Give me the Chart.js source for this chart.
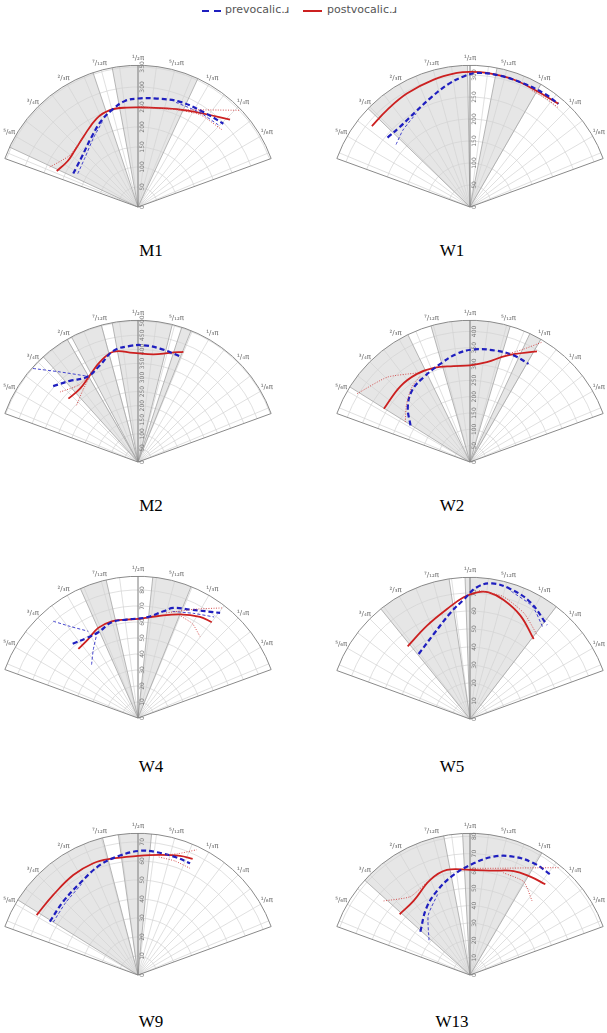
<!DOCTYPE html>
<html>
<head>
<meta charset="utf-8">
<script src="https://cdn.jsdelivr.net/npm/chart.js@4.4.0/dist/chart.umd.min.js"></script>
<style>
  body { margin: 0; width: 607px; height: 1033px; background: #fff; position: relative; overflow: hidden; }
  canvas { position: absolute; }
  .title { position: absolute; width: 80px; text-align: center; font: 17px 'Liberation Serif', serif; color: #000; }
  .leg { position: absolute; top: 3px; font: 11px 'DejaVu Sans', sans-serif; color: #555; }
  .sw { position: absolute; top: 10px; height: 2px; }
</style>
</head>
<body>
<div class="sw" style="left:202px;width:20px;background:repeating-linear-gradient(to right,#1f1fbf 0 7px,transparent 7px 12px)"></div>
<div class="leg" style="left:225px">prevocalic.ɹ</div>
<div class="sw" style="left:303px;width:19px;background:#cc2020"></div>
<div class="leg" style="left:327px">postvocalic.ɹ</div>

<script>
// panel names
const panelNames = ['M1', 'W1', 'M2', 'W2', 'W4', 'W5', 'W9', 'W13'];
// outer radius (axis units) and ring step of each fan
const radialMax = [354, 322, 503, 434, 88.5, 78.7, 74.5, 81.7];
const radialStep = [50, 50, 50, 50, 10, 10, 10, 10];
// angle tick labels (degrees)
const angleTicks = [30, 45, 60, 75, 90, 105, 120, 135, 150];
const angleLabels = ['¹/₆π', '¹/₄π', '¹/₃π', '⁵/₁₂π', '¹/₂π', '⁷/₁₂π', '²/₃π', '³/₄π', '⁵/₆π'];

// shaded angle ranges [from, to] in degrees
const shadeM1 = [[65, 100.5], [108.5, 155]];
const shadeW1 = [[60, 79], [91, 136]];
const shadeM2 = [[68, 72], [76, 100.5], [105, 118], [120, 132]];
const shadeW2 = [[60, 65], [73.5, 106], [116, 148]];
const shadeW4 = [[68, 84], [103, 114]];
const shadeW5 = [[52.5, 92], [98.5, 129]];
const shadeW9 = [[84.5, 98], [104.5, 148]];
const shadeW13 = [[59.5, 93], [100.7, 138]];

// traces: [angle in degrees, radius]
const m1Pre = [[152.7,182],[138.4,188],[123.5,210],[112.7,235],[104.1,253],[97,267],[90,271],[80.2,275],[68.2,283],[55.5,288],[44.3,298]];
const m1Post = [[156.1,222],[147,210],[138,212],[128,222],[115.1,244],[106.2,252],[96.5,250],[83.1,250],[68.4,263],[55,285],[43.5,317]];
const m1PreLo = [[151,172],[137,181],[123,205],[112.7,231]];
const m1PreRight = [[70,278],[57,282],[45.5,287]];
const m1PostHi = [[90,250],[66.7,265],[53.4,302],[43.5,351]];
const m1PostLo = [[70,260],[56,278],[42.7,285]];
const m1PostLeft = [[155.6,242],[143,214],[128,222]];

const w1Pre = [[139.9,245],[130.8,242],[119.9,249],[109.1,265],[99.8,284],[92.8,297],[87,305],[76.9,306],[66.2,306],[56.6,308],[49.4,309]];
const w1Post = [[140.5,289],[130.6,290],[119.1,295],[105.9,301],[95.5,306],[90,307],[82.8,307],[71.2,306],[60.1,304],[49.5,309]];
const w1PreLo = [[139.8,220],[131,232],[120,245]];
const w1PostLo = [[62,300],[55,301],[48.5,302]];

const m2Pre = [[138.2,404],[130,376],[120.8,352],[111.5,369],[102.5,404],[93.9,413],[87.4,415],[79,410],[68.3,404]];
const m2Post = [[137.7,334],[128.3,332],[119,352],[110.8,380],[102.6,401],[92.5,388],[81.9,386],[73.6,404],[67.6,423]];
const m2PreHi = [[138.3,499],[130.9,423],[120.8,355]];
const m2PostLo = [[137.3,297],[128,320],[119,350]];
const m2PostHi = [[138.1,372],[128,345],[119,352]];

const w2Pre = [[148.4,214],[138.6,254],[129,282],[118.6,296],[106.8,314],[96.8,334],[88.1,345],[77.2,350],[67.7,353],[59.2,350]];
const w2Post = [[148.3,310],[132.6,315],[121,315],[111,309],[99.7,298],[90,296],[80.4,310],[70.9,345],[58.8,396]];
const w2PostLeft = [[148.8,404],[134.3,363],[121,318]];
const w2PostRight = [[72,345],[65,380],[59,428]];
const w2PostLo = [[148.3,233],[138,262],[128,290],[120,305]];

const w4Pre = [[131.3,61.8],[122.7,59.4],[114.8,59.0],[105.4,62],[96.6,61.9],[85.1,63.1],[76.6,68.5],[72.2,72.2],[64.4,75.1],[52,83.3]];
const w4Post = [[130.8,57.0],[122.2,58.3],[113.8,61.5],[105.2,62.6],[96.6,61.9],[90,61.9],[79.6,64.6],[67.9,69.9],[58.5,74.1],[52.4,75.5]];
const w4PreUp = [[131.2,80.3],[126.6,71.3],[119.8,62.4]];
const w4PreDown = [[131,44.2],[123.2,51],[116.4,58.1]];
const w4PreRight = [[72,70],[62,74],[53,79]];
const w4PostLo = [[67,69],[60,68],[52.8,64]];
const w4PostHi = [[75,68],[62,77],[52.7,86.4]];

const w5Pre = [[128.3,46],[113.1,51.3],[100.5,59.9],[93,66.4],[87,73.3],[80.8,76.3],[72.8,75.6],[62.7,73],[50.7,67.5]];
const w5Post = [[130.6,53.2],[114.7,57.1],[101.8,62.4],[93,67.7],[86.8,70.5],[81.6,71.1],[74.2,68.7],[64,63.9],[51.5,56.8]];
const w5PreB = [[72,74.5],[61,71.5],[51.5,65]];
const w5PostB = [[86,71.5],[75,70.5],[63,66],[52,60]];

const w9Pre = [[148.8,54.2],[135.5,55.1],[122.3,57.1],[109,61.2],[98.6,63.5],[89.1,65.3],[81.3,65.3],[71.8,65],[65,64.8]];
const w9Post = [[149.4,61.9],[136.6,61.3],[122.9,62.6],[111.8,63.3],[103.6,62.8],[90,62.6],[79.6,64.2],[70.6,66.4],[64.8,67.5]];
const w9PreB = [[148,52.5],[135,53.8],[122,56.2]];
const w9PostHi = [[80,64],[72,67],[64.9,72.7]];
const w9PostLo = [[80,63],[72,63],[64,62.4]];

const w13Pre = [[138.9,38],[123.2,46],[111.4,52.1],[99.3,58.5],[88.1,64.4],[78.7,69.6],[69.7,72.7],[60.3,74.2],[50.5,74.3]];
const w13Post = [[139.2,53.6],[127.3,53.7],[112.7,59.4],[102.4,62],[90,60.6],[77.2,61.7],[67.2,65],[58.5,66.5],[50.3,68]];
const w13PreB = [[139.7,31],[125,42],[112,50]];
const w13PostLeft = [[139.4,65.6],[127.3,56.8],[115,59]];
const w13PostRight = [[90,61.5],[74.1,64],[60.6,70.9],[50.4,80.3]];
const w13PostLo = [[72,62],[60.1,62.1],[50,55.7]];

const preCI = [[m1PreLo, m1PreRight], [w1PreLo], [m2PreHi], [], [w4PreUp, w4PreDown, w4PreRight], [w5PreB], [w9PreB], [w13PreB]];
const postCI = [[m1PostHi, m1PostLo, m1PostLeft], [w1PostLo], [m2PostLo, m2PostHi], [w2PostLeft, w2PostRight, w2PostLo], [w4PostLo, w4PostHi], [w5PostB], [w9PostHi, w9PostLo], [w13PostLeft, w13PostRight, w13PostLo]];
const preMain = [m1Pre, w1Pre, m2Pre, w2Pre, w4Pre, w5Pre, w9Pre, w13Pre];
const postMain = [m1Post, w1Post, m2Post, w2Post, w4Post, w5Post, w9Post, w13Post];
const shades = [shadeM1, shadeW1, shadeM2, shadeW2, shadeW4, shadeW5, shadeW9, shadeW13];

// apex position of each fan on the page
const apexX = [138, 470, 138, 470, 138, 470, 138, 470];
const apexY = [207, 207, 462, 462, 718, 719, 975, 975];
const titleY = [241, 241, 496, 496, 757, 757, 1012, 1012];
const titleX = [151, 452, 151, 452, 151, 452, 151, 452];

const D = Math.PI / 180;
const R_PX = 141.7;
const CW = 300, CH = 165, AX = 150, AY = 155;

const fanPlugin = {
  id: 'fan',
  beforeDatasetsDraw(chart, args, o) {
    const ctx = chart.ctx, xs = chart.scales.x, ys = chart.scales.y;
    const cx = xs.getPixelForValue(0), cy = ys.getPixelForValue(0);
    const px = v => xs.getPixelForValue(v) - cx;
    const R = px(o.rMax);
    const pt = (t, r) => [cx + r * Math.cos(t * D), cy - r * Math.sin(t * D)];
    const ray = t => { ctx.beginPath(); ctx.moveTo(cx, cy); ctx.lineTo(...pt(t, R)); ctx.stroke(); };
    ctx.save();
    // shaded sectors
    ctx.fillStyle = '#e6e6e6';
    o.shade.forEach(([t0, t1]) => {
      ctx.beginPath(); ctx.moveTo(cx, cy);
      ctx.arc(cx, cy, R, -t1 * D, -t0 * D);
      ctx.closePath(); ctx.fill();
    });
    // rings and spokes
    ctx.strokeStyle = '#d2d2d2'; ctx.lineWidth = 0.7;
    for (let v = o.step; v < o.rMax - 0.5; v += o.step) {
      ctx.beginPath(); ctx.arc(cx, cy, px(v), -160 * D, -20 * D); ctx.stroke();
    }
    for (let t = 22.5; t < 160; t += 7.5) { if (t !== 90) ray(t); }
    // sector edges
    ctx.strokeStyle = '#a6a6a6'; ctx.lineWidth = 0.8;
    o.shade.forEach(([t0, t1]) => { ray(t0); ray(t1); });
    // outline
    ctx.strokeStyle = '#8a8a8a'; ctx.lineWidth = 1;
    ctx.beginPath();
    ctx.moveTo(...pt(160, R)); ctx.lineTo(cx, cy); ctx.lineTo(...pt(20, R));
    ctx.arc(cx, cy, R, -20 * D, -160 * D, true);
    ctx.stroke();
    ctx.strokeStyle = '#7a7a7a';
    ray(90);
    // radial tick labels
    ctx.fillStyle = '#777'; ctx.font = '6px "DejaVu Sans"';
    for (let v = 0; v < o.rMax - 0.5; v += o.step) {
      ctx.save();
      ctx.translate(cx + 1.5, cy - px(v));
      ctx.rotate(-Math.PI / 2);
      ctx.textAlign = 'center'; ctx.textBaseline = 'top';
      ctx.fillText(String(v), 0, 0);
      ctx.restore();
    }
    // angle labels
    ctx.fillStyle = '#666'; ctx.font = '7px "DejaVu Sans"';
    ctx.textAlign = 'center'; ctx.textBaseline = 'middle';
    angleTicks.forEach((t, i) => {
      const [lx, ly] = pt(t, R + 7);
      ctx.fillText(angleLabels[i], lx, ly);
    });
    ctx.restore();
  }
};

const toXY = pts => pts.map(([t, r]) => ({ x: r * Math.cos(t * D), y: r * Math.sin(t * D) }));

panelNames.forEach((name, i) => {
  const s = radialMax[i] / R_PX;
  const cv = document.createElement('canvas');
  cv.width = CW; cv.height = CH;
  cv.style.left = (apexX[i] - AX) + 'px';
  cv.style.top = (apexY[i] - AY) + 'px';
  document.body.appendChild(cv);

  const ds = [];
  postCI[i].forEach(p => ds.push({ data: toXY(p), borderColor: '#d04040', borderWidth: 0.9, borderDash: [1, 1.5], tension: 0.2 }));
  preCI[i].forEach(p => ds.push({ data: toXY(p), borderColor: '#3030c8', borderWidth: 0.9, borderDash: [3, 2], tension: 0.2 }));
  ds.push({ data: toXY(preMain[i]), borderColor: '#1f1fbf', borderWidth: 2.2, borderDash: [5, 3], tension: 0.4 });
  ds.push({ data: toXY(postMain[i]), borderColor: '#cc2020', borderWidth: 1.8, tension: 0.4 });
  ds.forEach(d => Object.assign(d, { showLine: true, pointRadius: 0, fill: false }));

  new Chart(cv, {
    type: 'scatter',
    data: { datasets: ds },
    options: {
      responsive: false, animation: false, events: [], devicePixelRatio: 1,
      layout: { padding: 0 },
      scales: {
        x: { type: 'linear', display: false, min: -AX * s, max: (CW - AX) * s },
        y: { type: 'linear', display: false, min: -(CH - AY) * s, max: AY * s }
      },
      plugins: {
        legend: { display: false }, tooltip: { enabled: false },
        fan: { rMax: radialMax[i], step: radialStep[i], shade: shades[i] }
      }
    },
    plugins: [fanPlugin]
  });

  const t = document.createElement('div');
  t.className = 'title';
  t.textContent = name;
  t.style.left = (titleX[i] - 40) + 'px';
  t.style.top = titleY[i] + 'px';
  document.body.appendChild(t);
});
</script>
</body>
</html>
